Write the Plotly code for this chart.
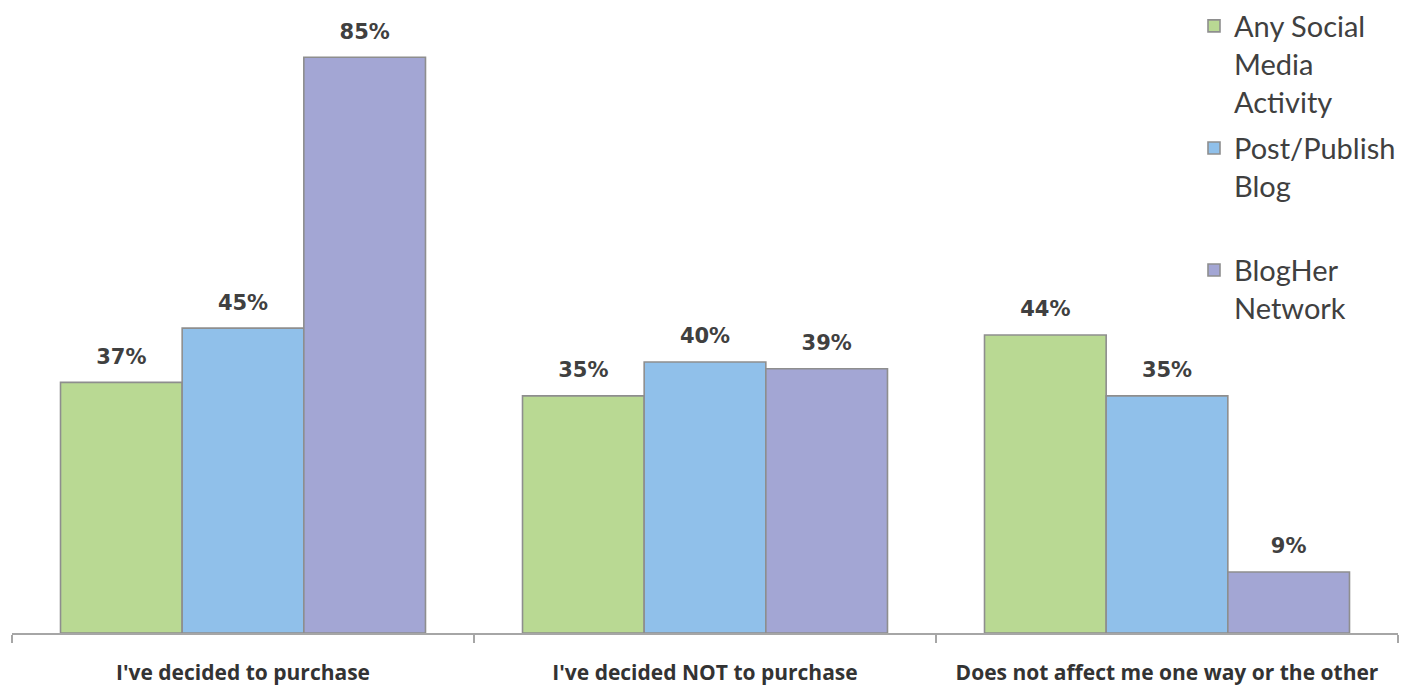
import plotly.graph_objects as go

categories = ["I've decided to purchase", "I've decided NOT to purchase",
              "Does not affect me one way or the other"]
series_names = ["Any Social<br>Media<br>Activity", "Post/Publish<br>Blog<br>&nbsp;",
                "BlogHer<br>Network"]
any_social = [37, 35, 44]
post_blog = [45, 40, 35]
blogher = [85, 39, 9]
series_values = [any_social, post_blog, blogher]
colors = ["#b9d993", "#90c0ea", "#a3a6d4"]


def value_label(v):
    # bold percentage with a tiny trailing line that lifts it off the bar top
    return (f"<span style='font-size:21px'><b>{v}%</b></span>"
            f"<br><span style='font-size:2px'>&nbsp;</span>")


fig = go.Figure()
for i, (name, vals, col) in enumerate(zip(series_names, series_values, colors)):
    fig.add_trace(go.Bar(
        name=name,
        x=categories,
        y=vals,
        legendgroup=f"g{i}",
        marker=dict(color=col, line=dict(color="#8e8e8e", width=1.6)),
        text=[value_label(v) for v in vals],
        textposition="outside",
        textfont=dict(family="DejaVu Sans", size=12, color="#404040"),
        cliponaxis=False,
        hoverinfo="skip",
    ))

fig.update_layout(
    width=1401, height=685,
    margin=dict(l=12, r=0, t=0, b=52),
    barmode="group",
    bargap=0.21,
    bargroupgap=0,
    plot_bgcolor="white",
    paper_bgcolor="white",
    showlegend=True,
    legend=dict(
        x=0.853, y=1.004, xanchor="left", yanchor="top",
        font=dict(family="Lato", size=29, color="#404040"),
        valign="top",
        tracegroupgap=6,
        bgcolor="rgba(0,0,0,0)",
    ),
    xaxis=dict(
        type="category",
        showline=True, linecolor="#a6a6a6", linewidth=1.5,
        ticks="outside", tickson="boundaries", ticklen=8, tickcolor="#a6a6a6",
        tickwidth=1.5,
        ticklabelstandoff=20,
        tickfont=dict(family="Open Sans", size=21, color="#333333", weight="bold"),
        showgrid=False, zeroline=False,
    ),
    yaxis=dict(range=[0, 93], visible=False, showgrid=False, zeroline=False),
)

fig.write_html("out.html")
